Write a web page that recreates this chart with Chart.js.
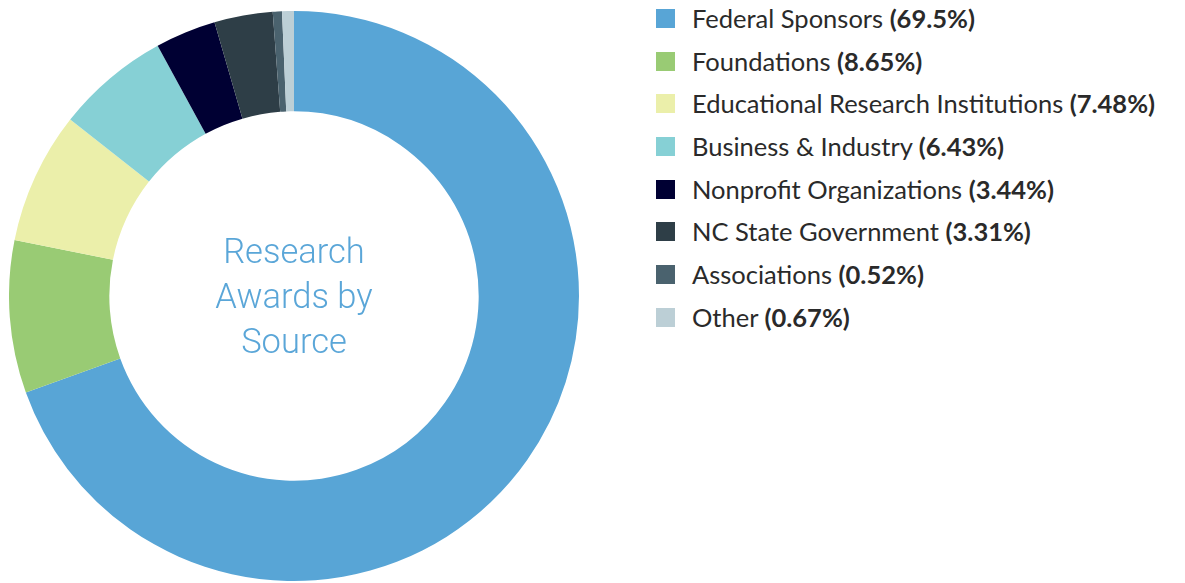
<!DOCTYPE html>
<html lang="en">
<head>
    <meta charset="UTF-8">
    <title>Research Awards by Source</title>
    <script src="https://cdn.jsdelivr.net/npm/chart.js"></script>
    <style>
        html, body { margin: 0; padding: 0; background: #fff; }
        body { width: 1185px; height: 583px; position: relative; overflow: hidden; font-family: Lato, "Open Sans", sans-serif; }
        .chart-box { position: absolute; left: 8.5px; top: 10.5px; width: 570px; height: 570px; }
        .legend { position: absolute; left: 656px; top: 0; margin: 0; padding: 0; list-style: none; }
        .legend li { position: relative; height: 42.7px; line-height: 37.4px; font-size: 25.5px; color: #2a2a2a; padding-left: 36px; white-space: nowrap; }
        .legend .sw { position: absolute; left: 0; top: 9px; width: 19px; height: 19px; }
        .legend b { font-weight: 700; }
    </style>
</head>
<body>

<div class="chart-box"><canvas id="awardsChart"></canvas></div>
<ul class="legend" id="legend"></ul>

<script>
    // data
    const categories = ['Federal Sponsors', 'Foundations', 'Educational Research Institutions', 'Business & Industry',
        'Nonprofit Organizations', 'NC State Government', 'Associations', 'Other'];
    const shares = [69.5, 8.65, 7.48, 6.43, 3.44, 3.31, 0.52, 0.67];
    const shareLabels = ['69.5%', '8.65%', '7.48%', '6.43%', '3.44%', '3.31%', '0.52%', '0.67%'];
    const colors = ['#58a5d6', '#99cb74', '#ebefaa', '#86d0d5', '#000033', '#2e3e47', '#4a626e', '#bccfd6'];
    const centerLines = ['Research', 'Awards by', 'Source'];

    // legend with bold percentages
    const legend = document.getElementById('legend');
    categories.forEach(function(name, i) {
        const li = document.createElement('li');
        li.innerHTML = '<span class="sw" style="background:' + colors[i] + '"></span>' + name + ' <b>(' + shareLabels[i] + ')</b>';
        legend.appendChild(li);
    });

    // center title
    const centerText = {
        id: 'centerText',
        afterDraw(chart) {
            const ctx = chart.ctx;
            const arc = chart.getDatasetMeta(0).data[0];
            ctx.save();
            ctx.font = '300 34.5px Roboto';
            ctx.fillStyle = '#5aa6d8';
            ctx.textAlign = 'center';
            ctx.textBaseline = 'middle';
            centerLines.forEach(function(line, i) {
                ctx.fillText(line, arc.x, arc.y - 42 + i * 45);
            });
            ctx.restore();
        }
    };

    new Chart(document.getElementById('awardsChart'), {
        type: 'doughnut',
        data: {
            labels: categories,
            datasets: [{
                data: shares,
                backgroundColor: colors,
                borderWidth: 0
            }]
        },
        options: {
            responsive: true,
            maintainAspectRatio: false,
            animation: false,
            cutout: '64.8%',
            layout: { padding: 0 },
            plugins: {
                legend: { display: false },
                tooltip: { enabled: false }
            }
        },
        plugins: [centerText]
    });
</script>
</body>
</html>
